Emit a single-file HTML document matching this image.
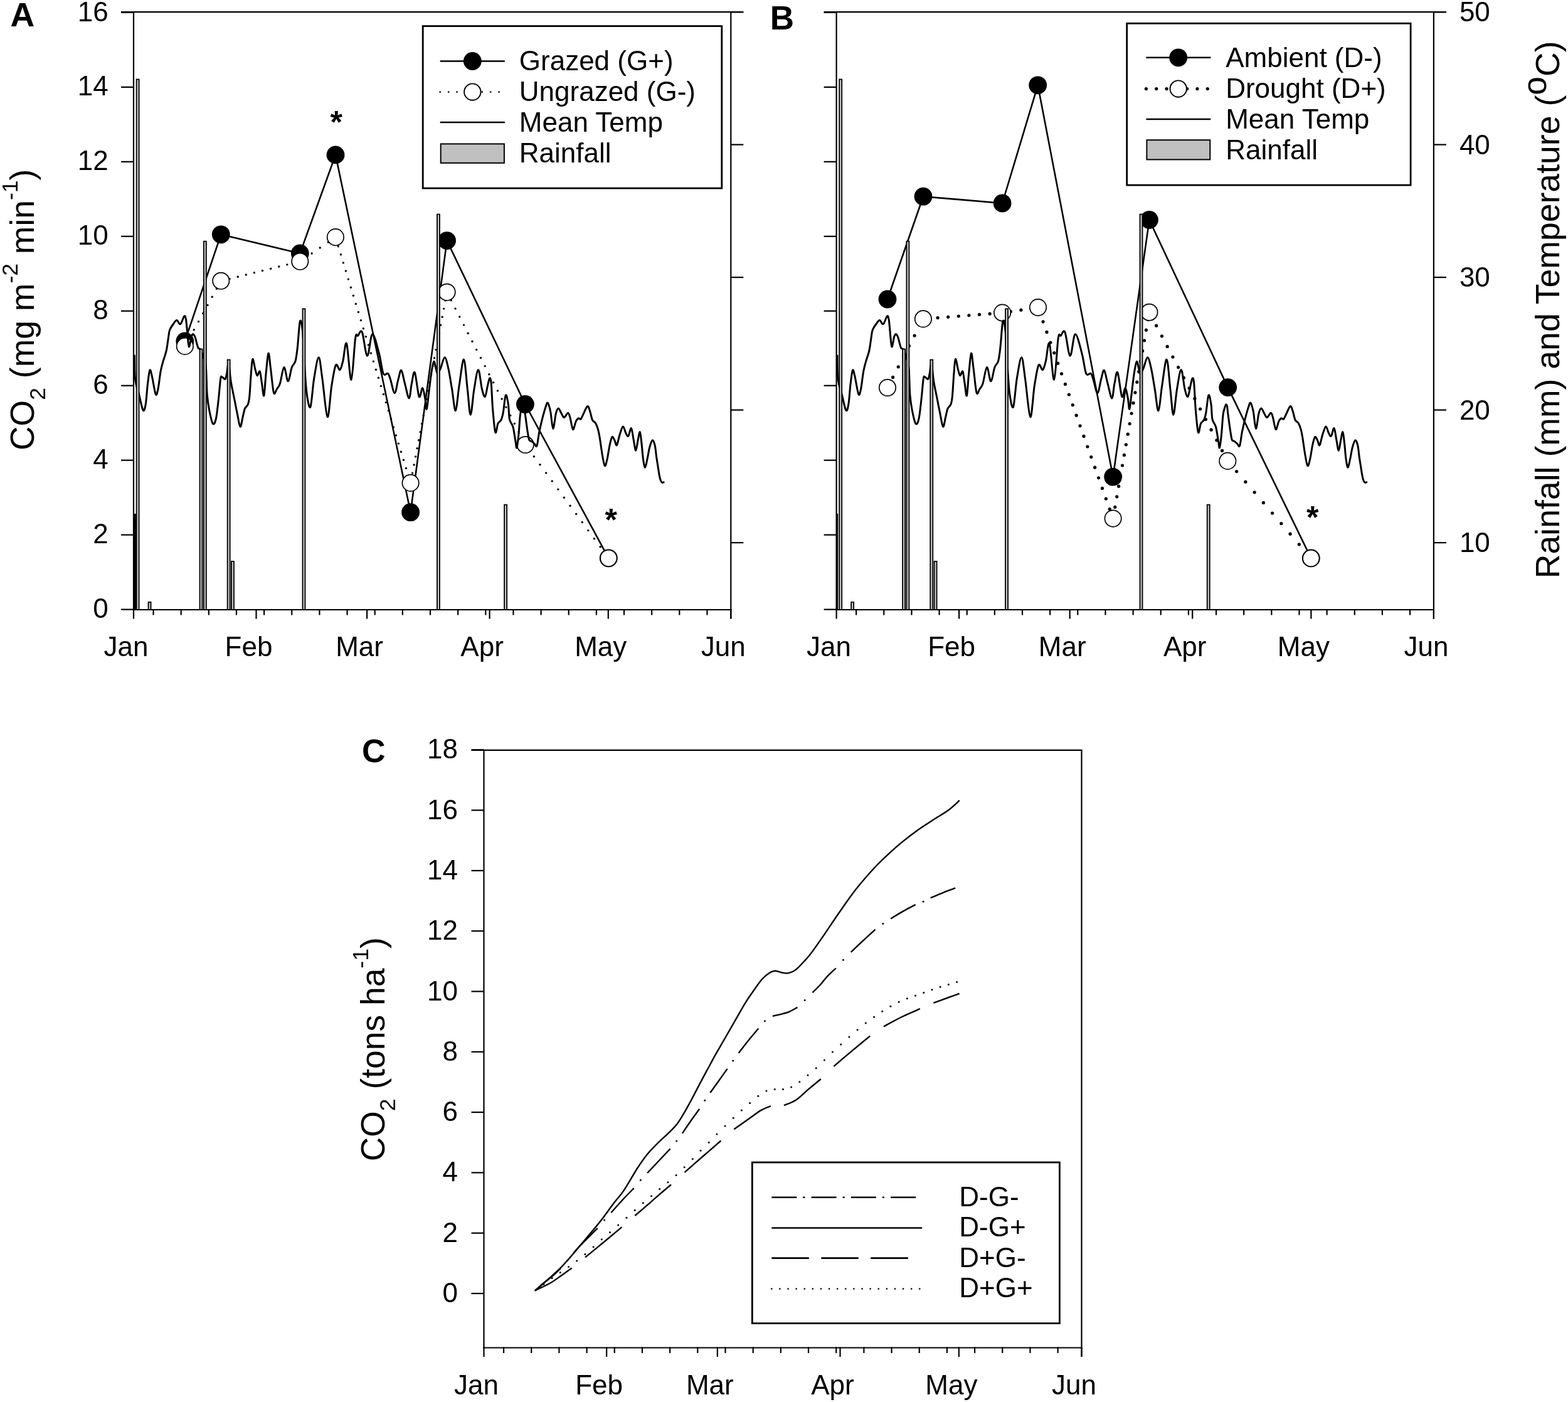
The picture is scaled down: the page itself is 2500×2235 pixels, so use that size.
<!DOCTYPE html>
<html><head><meta charset="utf-8"><title>Figure</title>
<style>html,body{margin:0;padding:0;background:#fff;}svg{display:block;}</style>
</head><body>
<svg width="2500" height="2235" viewBox="0 0 2500 2235" font-family="'Liberation Sans', Arial, sans-serif" fill="#000" stroke="#000">
<rect x="0" y="0" width="2500" height="2235" fill="#fff" stroke="none"/>
<g stroke="#000" fill="none">
<path d="M294.8,544 L352.3,373.8 L478.3,403.9 L535,246.9 L654.6,816.7 L712.6,383.6 L837.4,644.5 L970.3,889.8" fill="none" stroke-width="2.6" stroke-linejoin="round"/>
<circle cx="294.8" cy="544" r="14.4" fill="#000" stroke="none"/>
<circle cx="352.3" cy="373.8" r="14.4" fill="#000" stroke="none"/>
<circle cx="478.3" cy="403.9" r="14.4" fill="#000" stroke="none"/>
<circle cx="535" cy="246.9" r="14.4" fill="#000" stroke="none"/>
<circle cx="654.6" cy="816.7" r="14.4" fill="#000" stroke="none"/>
<circle cx="712.6" cy="383.6" r="14.4" fill="#000" stroke="none"/>
<circle cx="837.4" cy="644.5" r="14.4" fill="#000" stroke="none"/>
<circle cx="970.3" cy="889.8" r="14.4" fill="#000" stroke="none"/>
<g fill="#000" stroke="none"><circle cx="294.8" cy="551.9" r="1.7"/><circle cx="302.04" cy="538.8" r="1.7"/><circle cx="309.27" cy="525.7" r="1.7"/><circle cx="316.51" cy="512.6" r="1.7"/><circle cx="323.74" cy="499.5" r="1.7"/><circle cx="330.98" cy="486.4" r="1.7"/><circle cx="338.21" cy="473.3" r="1.7"/><circle cx="345.45" cy="460.2" r="1.7"/><circle cx="353" cy="447.63" r="1.7"/><circle cx="366.1" cy="444.4" r="1.7"/><circle cx="379.2" cy="441.18" r="1.7"/><circle cx="392.3" cy="437.96" r="1.7"/><circle cx="405.4" cy="434.74" r="1.7"/><circle cx="418.5" cy="431.51" r="1.7"/><circle cx="431.6" cy="428.29" r="1.7"/><circle cx="444.7" cy="425.07" r="1.7"/><circle cx="457.8" cy="421.84" r="1.7"/><circle cx="470.9" cy="418.62" r="1.7"/><circle cx="484" cy="412.9" r="1.7"/><circle cx="497.1" cy="403.95" r="1.7"/><circle cx="510.2" cy="394.99" r="1.7"/><circle cx="523.3" cy="386.03" r="1.7"/><circle cx="535.36" cy="379.6" r="1.7"/><circle cx="539.36" cy="392.7" r="1.7"/><circle cx="543.36" cy="405.8" r="1.7"/><circle cx="547.36" cy="418.9" r="1.7"/><circle cx="551.37" cy="432" r="1.7"/><circle cx="555.37" cy="445.1" r="1.7"/><circle cx="559.37" cy="458.2" r="1.7"/><circle cx="563.37" cy="471.3" r="1.7"/><circle cx="567.38" cy="484.4" r="1.7"/><circle cx="571.38" cy="497.5" r="1.7"/><circle cx="575.38" cy="510.6" r="1.7"/><circle cx="579.38" cy="523.7" r="1.7"/><circle cx="583.38" cy="536.8" r="1.7"/><circle cx="587.39" cy="549.9" r="1.7"/><circle cx="591.39" cy="563" r="1.7"/><circle cx="595.39" cy="576.1" r="1.7"/><circle cx="599.39" cy="589.2" r="1.7"/><circle cx="603.4" cy="602.3" r="1.7"/><circle cx="607.4" cy="615.4" r="1.7"/><circle cx="611.4" cy="628.5" r="1.7"/><circle cx="615.4" cy="641.6" r="1.7"/><circle cx="619.4" cy="654.7" r="1.7"/><circle cx="623.41" cy="667.8" r="1.7"/><circle cx="627.41" cy="680.9" r="1.7"/><circle cx="631.41" cy="694" r="1.7"/><circle cx="635.41" cy="707.1" r="1.7"/><circle cx="639.42" cy="720.2" r="1.7"/><circle cx="643.42" cy="733.3" r="1.7"/><circle cx="647.42" cy="746.4" r="1.7"/><circle cx="651.42" cy="759.5" r="1.7"/><circle cx="655.11" cy="767.2" r="1.7"/><circle cx="657.61" cy="754.1" r="1.7"/><circle cx="660.11" cy="741" r="1.7"/><circle cx="662.61" cy="727.9" r="1.7"/><circle cx="665.11" cy="714.8" r="1.7"/><circle cx="667.61" cy="701.7" r="1.7"/><circle cx="670.11" cy="688.6" r="1.7"/><circle cx="672.6" cy="675.5" r="1.7"/><circle cx="675.1" cy="662.4" r="1.7"/><circle cx="677.6" cy="649.3" r="1.7"/><circle cx="680.1" cy="636.2" r="1.7"/><circle cx="682.6" cy="623.1" r="1.7"/><circle cx="685.1" cy="610" r="1.7"/><circle cx="687.6" cy="596.9" r="1.7"/><circle cx="690.09" cy="583.8" r="1.7"/><circle cx="692.59" cy="570.7" r="1.7"/><circle cx="695.09" cy="557.6" r="1.7"/><circle cx="697.59" cy="544.5" r="1.7"/><circle cx="700.09" cy="531.4" r="1.7"/><circle cx="702.59" cy="518.3" r="1.7"/><circle cx="705.09" cy="505.2" r="1.7"/><circle cx="707.58" cy="492.1" r="1.7"/><circle cx="710.08" cy="479" r="1.7"/><circle cx="712.58" cy="465.9" r="1.7"/><circle cx="719.29" cy="478.8" r="1.7"/><circle cx="726.03" cy="491.9" r="1.7"/><circle cx="732.76" cy="505" r="1.7"/><circle cx="739.5" cy="518.1" r="1.7"/><circle cx="746.24" cy="531.2" r="1.7"/><circle cx="752.98" cy="544.3" r="1.7"/><circle cx="759.72" cy="557.4" r="1.7"/><circle cx="766.46" cy="570.5" r="1.7"/><circle cx="773.2" cy="583.6" r="1.7"/><circle cx="779.93" cy="596.7" r="1.7"/><circle cx="786.67" cy="609.8" r="1.7"/><circle cx="793.41" cy="622.9" r="1.7"/><circle cx="800.15" cy="636" r="1.7"/><circle cx="806.89" cy="649.1" r="1.7"/><circle cx="813.63" cy="662.2" r="1.7"/><circle cx="820.37" cy="675.3" r="1.7"/><circle cx="827.1" cy="688.4" r="1.7"/><circle cx="833.84" cy="701.5" r="1.7"/><circle cx="841.81" cy="714.6" r="1.7"/><circle cx="851.41" cy="727.7" r="1.7"/><circle cx="861.02" cy="740.8" r="1.7"/><circle cx="870.63" cy="753.9" r="1.7"/><circle cx="880.24" cy="767" r="1.7"/><circle cx="889.85" cy="780.1" r="1.7"/><circle cx="899.45" cy="793.2" r="1.7"/><circle cx="909.06" cy="806.3" r="1.7"/><circle cx="918.67" cy="819.4" r="1.7"/><circle cx="928.28" cy="832.5" r="1.7"/><circle cx="937.88" cy="845.6" r="1.7"/><circle cx="947.49" cy="858.7" r="1.7"/><circle cx="957.1" cy="871.8" r="1.7"/><circle cx="966.71" cy="884.9" r="1.7"/></g>
<circle cx="294.8" cy="551.9" r="13.2" fill="#fff" stroke-width="1.7"/>
<circle cx="352.3" cy="447.8" r="13.2" fill="#fff" stroke-width="1.7"/>
<circle cx="478.3" cy="416.8" r="13.2" fill="#fff" stroke-width="1.7"/>
<circle cx="534.9" cy="378.1" r="13.2" fill="#fff" stroke-width="1.7"/>
<circle cx="654.6" cy="769.9" r="13.2" fill="#fff" stroke-width="1.7"/>
<circle cx="712.6" cy="465.8" r="13.2" fill="#fff" stroke-width="1.7"/>
<circle cx="837.7" cy="709" r="13.2" fill="#fff" stroke-width="1.7"/>
<circle cx="970.3" cy="889.8" r="13.2" fill="#fff" stroke-width="1.7"/>
<path d="M214.3,565.7 C214.42,571.25 214.42,590.62 215,599 C215.58,607.38 216.72,611.12 217.8,616 C218.88,620.88 219.78,621.98 221.5,628.3 C223.22,634.62 226.32,651.15 228.1,653.9 C229.88,656.65 230.97,651.82 232.2,644.8 C233.43,637.78 234.4,620.87 235.5,611.8 C236.6,602.73 237.7,592.58 238.8,590.4 C239.9,588.22 240.53,592.38 242.1,598.7 C243.67,605.02 246.55,624.73 248.2,628.3 C249.85,631.87 250.68,626.13 252,620.1 C253.32,614.07 254.73,599.52 256.1,592.1 C257.47,584.68 258.68,581.1 260.2,575.6 C261.72,570.1 263.82,565.37 265.2,559.1 C266.58,552.83 267.62,543.45 268.5,538 C269.38,532.55 269.25,529.9 270.5,526.4 C271.75,522.9 274.1,519.63 276,517 C277.9,514.37 279.97,510.65 281.9,510.6 C283.83,510.55 285.63,517.8 287.6,516.7 C289.57,515.6 292.23,505.32 293.7,504 C295.17,502.68 295.67,505.43 296.4,508.8 C297.13,512.17 297.58,519 298.1,524.2 C298.62,529.4 298.97,535.23 299.5,540 C300.03,544.77 300.63,551.97 301.3,552.8 C301.97,553.63 302.88,547.63 303.5,545 C304.12,542.37 304.28,539.08 305,537 C305.72,534.92 306.97,532.83 307.8,532.5 C308.63,532.17 309.33,533.82 310,535 C310.67,536.18 311.13,537.37 311.8,539.6 C312.47,541.83 313.27,545.83 314,548.4 C314.73,550.97 315.2,553.4 316.2,555 C317.2,556.6 318.37,554.67 320,558 C321.63,561.33 324.57,569.87 326,575 C327.43,580.13 327.9,579.92 328.6,588.8 C329.3,597.68 329.38,617.6 330.2,628.3 C331.02,639 331.98,645.17 333.5,653 C335.02,660.83 337.5,672.82 339.3,675.3 C341.1,677.78 342.78,674.35 344.3,667.9 C345.82,661.45 347.17,647.32 348.4,636.6 C349.63,625.88 350.75,609.52 351.7,603.6 C352.65,597.68 352.87,600.97 354.1,601.1 C355.33,601.23 357.85,605.35 359.1,604.4 C360.35,603.45 360.7,599.47 361.6,595.4 C362.5,591.33 363.4,577.82 364.5,580 C365.6,582.18 366.77,599.62 368.2,608.5 C369.63,617.38 371.47,625.05 373.1,633.3 C374.73,641.55 376.35,650.18 378,658 C379.65,665.82 381.48,679.1 383,680.2 C384.52,681.3 385.87,669.4 387.1,664.6 C388.33,659.8 389.03,654.7 390.4,651.4 C391.77,648.1 394.07,648.1 395.3,644.8 C396.53,641.5 396.97,639.83 397.8,631.6 C398.63,623.37 399.47,605.28 400.3,595.4 C401.13,585.52 401.7,573.4 402.8,572.3 C403.9,571.2 405.67,584.4 406.9,588.8 C408.13,593.2 408.97,598.15 410.2,598.7 C411.43,599.25 413.07,589.92 414.3,592.1 C415.53,594.28 416.52,605.35 417.6,611.8 C418.68,618.25 419.72,633.53 420.8,630.8 C421.88,628.07 422.92,606.67 424.1,595.4 C425.28,584.13 426.67,564.58 427.9,563.2 C429.13,561.82 430.08,576.67 431.5,587.1 C432.92,597.53 434.75,620.3 436.4,625.8 C438.05,631.3 439.75,622.43 441.4,620.1 C443.05,617.77 444.38,617.57 446.3,611.8 C448.22,606.03 450.75,586.18 452.9,585.5 C455.05,584.82 457.13,607.7 459.2,607.7 C461.27,607.7 463.33,590.85 465.3,585.5 C467.27,580.15 469.5,580.82 471,575.6 C472.5,570.38 473.07,564.78 474.3,554.2 C475.53,543.62 477.02,516.23 478.4,512.1 C479.78,507.97 481.35,516.9 482.6,529.4 C483.85,541.9 484.8,570.62 485.9,587.1 C487,603.58 487.7,618 489.2,628.3 C490.7,638.6 492.98,653.02 494.9,648.9 C496.82,644.78 498.5,616.78 500.7,603.6 C502.9,590.42 505.9,569.8 508.1,569.8 C510.3,569.8 511.57,587.8 513.9,603.6 C516.23,619.4 519.63,662.68 522.1,664.6 C524.57,666.52 526.5,628.83 528.7,615.1 C530.9,601.37 533.1,586.45 535.3,582.2 C537.5,577.95 539.98,590.7 541.9,589.6 C543.82,588.5 545.02,582.6 546.8,575.6 C548.58,568.6 550.4,542.67 552.6,547.6 C554.8,552.53 557.67,606.58 560,605.2 C562.33,603.82 564.82,550.97 566.6,539.3 C568.38,527.63 568.92,536.85 570.7,535.2 C572.48,533.55 574.82,524.05 577.3,529.4 C579.78,534.75 582.85,566.75 585.6,567.3 C588.35,567.85 590.65,533.25 593.8,532.7 C596.95,532.15 601.62,553.55 604.5,564 C607.38,574.45 608.77,590.17 611.1,595.4 C613.43,600.63 616.58,593.77 618.5,595.4 C620.42,597.03 620.82,599.98 622.6,605.2 C624.38,610.42 627.15,626.7 629.2,626.7 C631.25,626.7 633.13,611.25 634.9,605.2 C636.67,599.15 638.02,589.3 639.8,590.4 C641.58,591.5 643.53,604.38 645.6,611.8 C647.67,619.22 650.42,634.9 652.2,634.9 C653.98,634.9 654.78,618.67 656.3,611.8 C657.82,604.93 659.32,590.27 661.3,593.7 C663.28,597.13 666.15,628.28 668.2,632.4 C670.25,636.52 672.02,617.98 673.6,618.4 C675.18,618.82 676.6,629.27 677.7,634.9 C678.8,640.53 679.23,653.3 680.2,652.2 C681.17,651.1 682.27,637.77 683.5,628.3 C684.73,618.83 686.23,604.05 687.6,595.4 C688.97,586.75 690.47,577.78 691.7,576.4 C692.93,575.02 694.03,583.93 695,587.1 C695.97,590.27 696.25,595.4 697.5,595.4 C698.75,595.4 700.58,591.37 702.5,587.1 C704.42,582.83 706.95,569.8 709,569.8 C711.05,569.8 712.87,578.72 714.8,587.1 C716.73,595.48 718.67,608.83 720.6,620.1 C722.53,631.37 724.48,655.53 726.4,654.7 C728.32,653.87 729.92,628.7 732.1,615.1 C734.28,601.5 737.3,572.27 739.5,573.1 C741.7,573.93 743.52,605.4 745.3,620.1 C747.08,634.8 748.42,661.3 750.2,661.3 C751.98,661.3 753.93,632.05 756,620.1 C758.07,608.15 760.53,589.6 762.6,589.6 C764.67,589.6 766.62,612.97 768.4,620.1 C770.18,627.23 771.8,633.23 773.3,632.4 C774.8,631.57 776.17,620.03 777.4,615.1 C778.63,610.17 779.73,603.35 780.7,602.8 C781.67,602.25 782.37,603.43 783.2,611.8 C784.03,620.17 784.6,640.08 785.7,653 C786.8,665.92 788.43,685.58 789.8,689.3 C791.17,693.02 792.38,678.6 793.9,675.3 C795.42,672 797.52,672.38 798.9,669.5 C800.28,666.62 800.97,664.58 802.2,658 C803.43,651.42 804.93,632.2 806.3,630 C807.67,627.8 809.38,638.4 810.4,644.8 C811.42,651.2 811.15,662.45 812.4,668.4 C813.65,674.35 816.28,674.47 817.9,680.5 C819.52,686.53 821.1,699.07 822.1,704.6 C823.1,710.13 823.1,715.7 823.9,713.7 C824.7,711.7 826,701.17 826.9,692.6 C827.8,684.03 828.53,669.07 829.3,662.3 C830.07,655.53 830.72,654.88 831.5,652 C832.28,649.12 833.25,645.67 834,645 C834.75,644.33 835.47,645.62 836,648 C836.53,650.38 836.3,652.38 837.2,659.3 C838.1,666.22 840.28,682.45 841.4,689.5 C842.52,696.55 842.88,699.28 843.9,701.6 C844.92,703.92 846.1,702.38 847.5,703.4 C848.9,704.42 850.88,706.48 852.3,707.7 C853.72,708.92 854.78,713.73 856,710.7 C857.22,707.67 858.2,696.55 859.6,689.5 C861,682.45 862.58,675.45 864.4,668.4 C866.22,661.35 868.98,651.53 870.5,647.2 C872.02,642.87 872.3,640.88 873.5,642.4 C874.7,643.92 876.32,649.48 877.7,656.3 C879.08,663.12 880.35,682.87 881.8,683.3 C883.25,683.73 884.97,664.28 886.4,658.9 C887.83,653.52 888.85,650.78 890.4,651 C891.95,651.22 894.17,657.78 895.7,660.2 C897.23,662.62 897.95,665.82 899.6,665.5 C901.25,665.18 904.05,658.3 905.6,658.3 C907.15,658.3 907.58,661.12 908.9,665.5 C910.22,669.88 911.97,683.5 913.5,684.6 C915.03,685.7 916.68,675.07 918.1,672.1 C919.52,669.13 920.68,667.47 922,666.8 C923.32,666.13 924.67,669.2 926,668.1 C927.33,667 928.23,663.6 930,660.2 C931.77,656.8 934.85,648.57 936.6,647.7 C938.35,646.83 939.18,651.37 940.5,655 C941.82,658.63 942.97,666.22 944.5,669.5 C946.03,672.78 948.17,672.07 949.7,674.7 C951.23,677.33 952.6,681.33 953.7,685.3 C954.8,689.27 955.2,691.9 956.3,698.5 C957.4,705.1 958.97,717.53 960.3,724.9 C961.63,732.27 962.98,741.6 964.3,742.7 C965.62,743.8 966.88,737.12 968.2,731.5 C969.52,725.88 970.88,714.83 972.2,709 C973.52,703.17 974.78,697.6 976.1,696.5 C977.42,695.4 978.88,700.2 980.1,702.4 C981.32,704.6 982.08,711.23 983.4,709.7 C984.72,708.17 986.35,698.15 988,693.2 C989.65,688.25 991.65,680.43 993.3,680 C994.95,679.57 996.48,688.07 997.9,690.6 C999.32,693.13 1000.37,696.52 1001.8,695.2 C1003.23,693.88 1005.07,681.5 1006.5,682.7 C1007.93,683.9 1009.2,696.47 1010.4,702.4 C1011.6,708.33 1012.6,718.3 1013.7,718.3 C1014.8,718.3 1015.9,707.35 1017,702.4 C1018.1,697.45 1019.3,687.8 1020.3,688.6 C1021.3,689.4 1022.15,700.07 1023,707.2 C1023.85,714.33 1024.48,725.05 1025.4,731.4 C1026.32,737.75 1027.38,745.3 1028.5,745.3 C1029.62,745.3 1030.9,736.75 1032.1,731.4 C1033.3,726.05 1034.35,718.13 1035.7,713.2 C1037.05,708.27 1038.78,702.3 1040.2,701.8 C1041.62,701.3 1043.13,705.78 1044.2,710.2 C1045.27,714.62 1045.8,722.77 1046.6,728.3 C1047.4,733.83 1048.2,738.37 1049,743.4 C1049.8,748.43 1050.6,754.57 1051.4,758.5 C1052.2,762.43 1052.98,765.18 1053.8,767 C1054.62,768.82 1055.38,769.2 1056.3,769.4 C1057.22,769.6 1058.8,768.4 1059.3,768.2" fill="none" stroke-width="3.0" stroke-linejoin="round"/>
<rect x="212.5" y="818.9" width="4.9" height="153.1" fill="#000" stroke="none"/>
<rect x="217.61" y="126.5" width="4" height="845.5" fill="#c8c8c8" stroke-width="1.8"/>
<rect x="236.53" y="959.9" width="4" height="12.1" fill="#c8c8c8" stroke-width="1.8"/>
<rect x="318.51" y="556.5" width="4" height="415.5" fill="#c8c8c8" stroke-width="1.8"/>
<rect x="324.82" y="384.7" width="4" height="587.3" fill="#c8c8c8" stroke-width="1.8"/>
<rect x="362.66" y="573.5" width="4" height="398.5" fill="#c8c8c8" stroke-width="1.8"/>
<rect x="368.97" y="894.9" width="4" height="77.1" fill="#c8c8c8" stroke-width="1.8"/>
<rect x="482.48" y="492.3" width="4" height="479.7" fill="#c8c8c8" stroke-width="1.8"/>
<rect x="696.91" y="341.6" width="4" height="630.4" fill="#c8c8c8" stroke-width="1.8"/>
<rect x="804.12" y="804.6" width="4" height="167.4" fill="#c8c8c8" stroke-width="1.8"/>
<path d="M1415,477 L1472,313.2 L1598.1,324 L1654.7,135.8 L1774.6,760.2 L1832.4,350.5 L1957.7,617.6 L2090.3,889.9" fill="none" stroke-width="2.6" stroke-linejoin="round"/>
<circle cx="1415" cy="477" r="14.4" fill="#000" stroke="none"/>
<circle cx="1472" cy="313.2" r="14.4" fill="#000" stroke="none"/>
<circle cx="1598.1" cy="324" r="14.4" fill="#000" stroke="none"/>
<circle cx="1654.7" cy="135.8" r="14.4" fill="#000" stroke="none"/>
<circle cx="1774.6" cy="760.2" r="14.4" fill="#000" stroke="none"/>
<circle cx="1832.4" cy="350.5" r="14.4" fill="#000" stroke="none"/>
<circle cx="1957.7" cy="617.6" r="14.4" fill="#000" stroke="none"/>
<circle cx="2090.3" cy="889.9" r="14.4" fill="#000" stroke="none"/>
<g fill="#000" stroke="none"><circle cx="1415" cy="618" r="2.6"/><circle cx="1423.62" cy="601.4" r="2.6"/><circle cx="1432.24" cy="584.8" r="2.6"/><circle cx="1440.85" cy="568.2" r="2.6"/><circle cx="1449.47" cy="551.6" r="2.6"/><circle cx="1458.09" cy="535" r="2.6"/><circle cx="1466.71" cy="518.4" r="2.6"/><circle cx="1478.5" cy="507.89" r="2.6"/><circle cx="1495.1" cy="506.6" r="2.6"/><circle cx="1511.7" cy="505.31" r="2.6"/><circle cx="1528.3" cy="504.02" r="2.6"/><circle cx="1544.9" cy="502.73" r="2.6"/><circle cx="1561.5" cy="501.44" r="2.6"/><circle cx="1578.1" cy="500.15" r="2.6"/><circle cx="1594.7" cy="498.86" r="2.6"/><circle cx="1611.3" cy="496.63" r="2.6"/><circle cx="1627.9" cy="494.15" r="2.6"/><circle cx="1644.5" cy="491.67" r="2.6"/><circle cx="1657.17" cy="496.2" r="2.6"/><circle cx="1663.07" cy="512.8" r="2.6"/><circle cx="1668.97" cy="529.4" r="2.6"/><circle cx="1674.87" cy="546" r="2.6"/><circle cx="1680.77" cy="562.6" r="2.6"/><circle cx="1686.67" cy="579.2" r="2.6"/><circle cx="1692.57" cy="595.8" r="2.6"/><circle cx="1698.47" cy="612.4" r="2.6"/><circle cx="1704.37" cy="629" r="2.6"/><circle cx="1710.27" cy="645.6" r="2.6"/><circle cx="1716.17" cy="662.2" r="2.6"/><circle cx="1722.07" cy="678.8" r="2.6"/><circle cx="1727.97" cy="695.4" r="2.6"/><circle cx="1733.87" cy="712" r="2.6"/><circle cx="1739.77" cy="728.6" r="2.6"/><circle cx="1745.67" cy="745.2" r="2.6"/><circle cx="1751.57" cy="761.8" r="2.6"/><circle cx="1757.47" cy="778.4" r="2.6"/><circle cx="1763.37" cy="795" r="2.6"/><circle cx="1769.27" cy="811.6" r="2.6"/><circle cx="1774.88" cy="825" r="2.6"/><circle cx="1777.8" cy="808.4" r="2.6"/><circle cx="1780.72" cy="791.8" r="2.6"/><circle cx="1783.64" cy="775.2" r="2.6"/><circle cx="1786.55" cy="758.6" r="2.6"/><circle cx="1789.47" cy="742" r="2.6"/><circle cx="1792.39" cy="725.4" r="2.6"/><circle cx="1795.31" cy="708.8" r="2.6"/><circle cx="1798.23" cy="692.2" r="2.6"/><circle cx="1801.14" cy="675.6" r="2.6"/><circle cx="1804.06" cy="659" r="2.6"/><circle cx="1806.98" cy="642.4" r="2.6"/><circle cx="1809.9" cy="625.8" r="2.6"/><circle cx="1812.82" cy="609.2" r="2.6"/><circle cx="1815.74" cy="592.6" r="2.6"/><circle cx="1818.65" cy="576" r="2.6"/><circle cx="1821.57" cy="559.4" r="2.6"/><circle cx="1824.49" cy="542.8" r="2.6"/><circle cx="1827.41" cy="526.2" r="2.6"/><circle cx="1830.33" cy="509.6" r="2.6"/><circle cx="1834.93" cy="502.6" r="2.6"/><circle cx="1843.67" cy="519.2" r="2.6"/><circle cx="1852.42" cy="535.8" r="2.6"/><circle cx="1861.16" cy="552.4" r="2.6"/><circle cx="1869.91" cy="569" r="2.6"/><circle cx="1878.65" cy="585.6" r="2.6"/><circle cx="1887.4" cy="602.2" r="2.6"/><circle cx="1896.14" cy="618.8" r="2.6"/><circle cx="1904.89" cy="635.4" r="2.6"/><circle cx="1913.63" cy="652" r="2.6"/><circle cx="1922.37" cy="668.6" r="2.6"/><circle cx="1931.12" cy="685.2" r="2.6"/><circle cx="1939.86" cy="701.8" r="2.6"/><circle cx="1948.61" cy="718.4" r="2.6"/><circle cx="1957.39" cy="735" r="2.6"/><circle cx="1971.63" cy="751.6" r="2.6"/><circle cx="1985.87" cy="768.2" r="2.6"/><circle cx="2000.12" cy="784.8" r="2.6"/><circle cx="2014.36" cy="801.4" r="2.6"/><circle cx="2028.61" cy="818" r="2.6"/><circle cx="2042.85" cy="834.6" r="2.6"/><circle cx="2057.09" cy="851.2" r="2.6"/><circle cx="2071.34" cy="867.8" r="2.6"/><circle cx="2085.58" cy="884.4" r="2.6"/></g>
<circle cx="1415" cy="618" r="13.2" fill="#fff" stroke-width="1.7"/>
<circle cx="1471.9" cy="508.4" r="13.2" fill="#fff" stroke-width="1.7"/>
<circle cx="1598.1" cy="498.6" r="13.2" fill="#fff" stroke-width="1.7"/>
<circle cx="1655" cy="490.1" r="13.2" fill="#fff" stroke-width="1.7"/>
<circle cx="1774.6" cy="826.6" r="13.2" fill="#fff" stroke-width="1.7"/>
<circle cx="1832.4" cy="497.8" r="13.2" fill="#fff" stroke-width="1.7"/>
<circle cx="1957.3" cy="734.9" r="13.2" fill="#fff" stroke-width="1.7"/>
<circle cx="2090.3" cy="889.9" r="13.2" fill="#fff" stroke-width="1.7"/>
<path d="M1334.9,565.7 C1335.02,571.25 1335.02,590.62 1335.6,599 C1336.18,607.38 1337.32,611.12 1338.4,616 C1339.48,620.88 1340.38,621.98 1342.1,628.3 C1343.82,634.62 1346.92,651.15 1348.7,653.9 C1350.48,656.65 1351.57,651.82 1352.8,644.8 C1354.03,637.78 1355,620.87 1356.1,611.8 C1357.2,602.73 1358.3,592.58 1359.4,590.4 C1360.5,588.22 1361.13,592.38 1362.7,598.7 C1364.27,605.02 1367.15,624.73 1368.8,628.3 C1370.45,631.87 1371.28,626.13 1372.6,620.1 C1373.92,614.07 1375.33,599.52 1376.7,592.1 C1378.07,584.68 1379.28,581.1 1380.8,575.6 C1382.32,570.1 1384.42,565.37 1385.8,559.1 C1387.18,552.83 1388.22,543.45 1389.1,538 C1389.98,532.55 1389.85,529.9 1391.1,526.4 C1392.35,522.9 1394.7,519.63 1396.6,517 C1398.5,514.37 1400.57,510.65 1402.5,510.6 C1404.43,510.55 1406.23,517.8 1408.2,516.7 C1410.17,515.6 1412.83,505.32 1414.3,504 C1415.77,502.68 1416.27,505.43 1417,508.8 C1417.73,512.17 1418.18,519 1418.7,524.2 C1419.22,529.4 1419.57,535.23 1420.1,540 C1420.63,544.77 1421.23,551.97 1421.9,552.8 C1422.57,553.63 1423.48,547.63 1424.1,545 C1424.72,542.37 1424.88,539.08 1425.6,537 C1426.32,534.92 1427.57,532.83 1428.4,532.5 C1429.23,532.17 1429.93,533.82 1430.6,535 C1431.27,536.18 1431.73,537.37 1432.4,539.6 C1433.07,541.83 1433.87,545.83 1434.6,548.4 C1435.33,550.97 1435.8,553.4 1436.8,555 C1437.8,556.6 1438.97,554.67 1440.6,558 C1442.23,561.33 1445.17,569.87 1446.6,575 C1448.03,580.13 1448.5,579.92 1449.2,588.8 C1449.9,597.68 1449.98,617.6 1450.8,628.3 C1451.62,639 1452.58,645.17 1454.1,653 C1455.62,660.83 1458.1,672.82 1459.9,675.3 C1461.7,677.78 1463.38,674.35 1464.9,667.9 C1466.42,661.45 1467.77,647.32 1469,636.6 C1470.23,625.88 1471.35,609.52 1472.3,603.6 C1473.25,597.68 1473.47,600.97 1474.7,601.1 C1475.93,601.23 1478.45,605.35 1479.7,604.4 C1480.95,603.45 1481.3,599.47 1482.2,595.4 C1483.1,591.33 1484,577.82 1485.1,580 C1486.2,582.18 1487.37,599.62 1488.8,608.5 C1490.23,617.38 1492.07,625.05 1493.7,633.3 C1495.33,641.55 1496.95,650.18 1498.6,658 C1500.25,665.82 1502.08,679.1 1503.6,680.2 C1505.12,681.3 1506.47,669.4 1507.7,664.6 C1508.93,659.8 1509.63,654.7 1511,651.4 C1512.37,648.1 1514.67,648.1 1515.9,644.8 C1517.13,641.5 1517.57,639.83 1518.4,631.6 C1519.23,623.37 1520.07,605.28 1520.9,595.4 C1521.73,585.52 1522.3,573.4 1523.4,572.3 C1524.5,571.2 1526.27,584.4 1527.5,588.8 C1528.73,593.2 1529.57,598.15 1530.8,598.7 C1532.03,599.25 1533.67,589.92 1534.9,592.1 C1536.13,594.28 1537.12,605.35 1538.2,611.8 C1539.28,618.25 1540.32,633.53 1541.4,630.8 C1542.48,628.07 1543.52,606.67 1544.7,595.4 C1545.88,584.13 1547.27,564.58 1548.5,563.2 C1549.73,561.82 1550.68,576.67 1552.1,587.1 C1553.52,597.53 1555.35,620.3 1557,625.8 C1558.65,631.3 1560.35,622.43 1562,620.1 C1563.65,617.77 1564.98,617.57 1566.9,611.8 C1568.82,606.03 1571.35,586.18 1573.5,585.5 C1575.65,584.82 1577.73,607.7 1579.8,607.7 C1581.87,607.7 1583.93,590.85 1585.9,585.5 C1587.87,580.15 1590.1,580.82 1591.6,575.6 C1593.1,570.38 1593.67,564.78 1594.9,554.2 C1596.13,543.62 1597.62,516.23 1599,512.1 C1600.38,507.97 1601.95,516.9 1603.2,529.4 C1604.45,541.9 1605.4,570.62 1606.5,587.1 C1607.6,603.58 1608.3,618 1609.8,628.3 C1611.3,638.6 1613.58,653.02 1615.5,648.9 C1617.42,644.78 1619.1,616.78 1621.3,603.6 C1623.5,590.42 1626.5,569.8 1628.7,569.8 C1630.9,569.8 1632.17,587.8 1634.5,603.6 C1636.83,619.4 1640.23,662.68 1642.7,664.6 C1645.17,666.52 1647.1,628.83 1649.3,615.1 C1651.5,601.37 1653.7,586.45 1655.9,582.2 C1658.1,577.95 1660.58,590.7 1662.5,589.6 C1664.42,588.5 1665.62,582.6 1667.4,575.6 C1669.18,568.6 1671,542.67 1673.2,547.6 C1675.4,552.53 1678.27,606.58 1680.6,605.2 C1682.93,603.82 1685.42,550.97 1687.2,539.3 C1688.98,527.63 1689.52,536.85 1691.3,535.2 C1693.08,533.55 1695.42,524.05 1697.9,529.4 C1700.38,534.75 1703.45,566.75 1706.2,567.3 C1708.95,567.85 1711.25,533.25 1714.4,532.7 C1717.55,532.15 1722.22,553.55 1725.1,564 C1727.98,574.45 1729.37,590.17 1731.7,595.4 C1734.03,600.63 1737.18,593.77 1739.1,595.4 C1741.02,597.03 1741.42,599.98 1743.2,605.2 C1744.98,610.42 1747.75,626.7 1749.8,626.7 C1751.85,626.7 1753.73,611.25 1755.5,605.2 C1757.27,599.15 1758.62,589.3 1760.4,590.4 C1762.18,591.5 1764.13,604.38 1766.2,611.8 C1768.27,619.22 1771.02,634.9 1772.8,634.9 C1774.58,634.9 1775.38,618.67 1776.9,611.8 C1778.42,604.93 1779.92,590.27 1781.9,593.7 C1783.88,597.13 1786.75,628.28 1788.8,632.4 C1790.85,636.52 1792.62,617.98 1794.2,618.4 C1795.78,618.82 1797.2,629.27 1798.3,634.9 C1799.4,640.53 1799.83,653.3 1800.8,652.2 C1801.77,651.1 1802.87,637.77 1804.1,628.3 C1805.33,618.83 1806.83,604.05 1808.2,595.4 C1809.57,586.75 1811.07,577.78 1812.3,576.4 C1813.53,575.02 1814.63,583.93 1815.6,587.1 C1816.57,590.27 1816.85,595.4 1818.1,595.4 C1819.35,595.4 1821.18,591.37 1823.1,587.1 C1825.02,582.83 1827.55,569.8 1829.6,569.8 C1831.65,569.8 1833.47,578.72 1835.4,587.1 C1837.33,595.48 1839.27,608.83 1841.2,620.1 C1843.13,631.37 1845.08,655.53 1847,654.7 C1848.92,653.87 1850.52,628.7 1852.7,615.1 C1854.88,601.5 1857.9,572.27 1860.1,573.1 C1862.3,573.93 1864.12,605.4 1865.9,620.1 C1867.68,634.8 1869.02,661.3 1870.8,661.3 C1872.58,661.3 1874.53,632.05 1876.6,620.1 C1878.67,608.15 1881.13,589.6 1883.2,589.6 C1885.27,589.6 1887.22,612.97 1889,620.1 C1890.78,627.23 1892.4,633.23 1893.9,632.4 C1895.4,631.57 1896.77,620.03 1898,615.1 C1899.23,610.17 1900.33,603.35 1901.3,602.8 C1902.27,602.25 1902.97,603.43 1903.8,611.8 C1904.63,620.17 1905.2,640.08 1906.3,653 C1907.4,665.92 1909.03,685.58 1910.4,689.3 C1911.77,693.02 1912.98,678.6 1914.5,675.3 C1916.02,672 1918.12,672.38 1919.5,669.5 C1920.88,666.62 1921.57,664.58 1922.8,658 C1924.03,651.42 1925.53,632.2 1926.9,630 C1928.27,627.8 1929.98,638.4 1931,644.8 C1932.02,651.2 1931.75,662.45 1933,668.4 C1934.25,674.35 1936.88,674.47 1938.5,680.5 C1940.12,686.53 1941.7,699.07 1942.7,704.6 C1943.7,710.13 1943.7,715.7 1944.5,713.7 C1945.3,711.7 1946.6,701.17 1947.5,692.6 C1948.4,684.03 1949.13,669.07 1949.9,662.3 C1950.67,655.53 1951.32,654.88 1952.1,652 C1952.88,649.12 1953.85,645.67 1954.6,645 C1955.35,644.33 1956.07,645.62 1956.6,648 C1957.13,650.38 1956.9,652.38 1957.8,659.3 C1958.7,666.22 1960.88,682.45 1962,689.5 C1963.12,696.55 1963.48,699.28 1964.5,701.6 C1965.52,703.92 1966.7,702.38 1968.1,703.4 C1969.5,704.42 1971.48,706.48 1972.9,707.7 C1974.32,708.92 1975.38,713.73 1976.6,710.7 C1977.82,707.67 1978.8,696.55 1980.2,689.5 C1981.6,682.45 1983.18,675.45 1985,668.4 C1986.82,661.35 1989.58,651.53 1991.1,647.2 C1992.62,642.87 1992.9,640.88 1994.1,642.4 C1995.3,643.92 1996.92,649.48 1998.3,656.3 C1999.68,663.12 2000.95,682.87 2002.4,683.3 C2003.85,683.73 2005.57,664.28 2007,658.9 C2008.43,653.52 2009.45,650.78 2011,651 C2012.55,651.22 2014.77,657.78 2016.3,660.2 C2017.83,662.62 2018.55,665.82 2020.2,665.5 C2021.85,665.18 2024.65,658.3 2026.2,658.3 C2027.75,658.3 2028.18,661.12 2029.5,665.5 C2030.82,669.88 2032.57,683.5 2034.1,684.6 C2035.63,685.7 2037.28,675.07 2038.7,672.1 C2040.12,669.13 2041.28,667.47 2042.6,666.8 C2043.92,666.13 2045.27,669.2 2046.6,668.1 C2047.93,667 2048.83,663.6 2050.6,660.2 C2052.37,656.8 2055.45,648.57 2057.2,647.7 C2058.95,646.83 2059.78,651.37 2061.1,655 C2062.42,658.63 2063.57,666.22 2065.1,669.5 C2066.63,672.78 2068.77,672.07 2070.3,674.7 C2071.83,677.33 2073.2,681.33 2074.3,685.3 C2075.4,689.27 2075.8,691.9 2076.9,698.5 C2078,705.1 2079.57,717.53 2080.9,724.9 C2082.23,732.27 2083.58,741.6 2084.9,742.7 C2086.22,743.8 2087.48,737.12 2088.8,731.5 C2090.12,725.88 2091.48,714.83 2092.8,709 C2094.12,703.17 2095.38,697.6 2096.7,696.5 C2098.02,695.4 2099.48,700.2 2100.7,702.4 C2101.92,704.6 2102.68,711.23 2104,709.7 C2105.32,708.17 2106.95,698.15 2108.6,693.2 C2110.25,688.25 2112.25,680.43 2113.9,680 C2115.55,679.57 2117.08,688.07 2118.5,690.6 C2119.92,693.13 2120.97,696.52 2122.4,695.2 C2123.83,693.88 2125.67,681.5 2127.1,682.7 C2128.53,683.9 2129.8,696.47 2131,702.4 C2132.2,708.33 2133.2,718.3 2134.3,718.3 C2135.4,718.3 2136.5,707.35 2137.6,702.4 C2138.7,697.45 2139.9,687.8 2140.9,688.6 C2141.9,689.4 2142.75,700.07 2143.6,707.2 C2144.45,714.33 2145.08,725.05 2146,731.4 C2146.92,737.75 2147.98,745.3 2149.1,745.3 C2150.22,745.3 2151.5,736.75 2152.7,731.4 C2153.9,726.05 2154.95,718.13 2156.3,713.2 C2157.65,708.27 2159.38,702.3 2160.8,701.8 C2162.22,701.3 2163.73,705.78 2164.8,710.2 C2165.87,714.62 2166.4,722.77 2167.2,728.3 C2168,733.83 2168.8,738.37 2169.6,743.4 C2170.4,748.43 2171.2,754.57 2172,758.5 C2172.8,762.43 2173.58,765.18 2174.4,767 C2175.22,768.82 2175.98,769.2 2176.9,769.4 C2177.82,769.6 2179.4,768.4 2179.9,768.2" fill="none" stroke-width="3.0" stroke-linejoin="round"/>
<rect x="1334.2" y="818.9" width="1.8" height="153.1" fill="#000" stroke="none"/>
<rect x="1336" y="818.9" width="1.0" height="153.1" fill="#c8c8c8" stroke="none"/>
<rect x="1338.21" y="126.5" width="4" height="845.5" fill="#c8c8c8" stroke-width="1.8"/>
<rect x="1357.13" y="959.9" width="4" height="12.1" fill="#c8c8c8" stroke-width="1.8"/>
<rect x="1439.11" y="556.5" width="4" height="415.5" fill="#c8c8c8" stroke-width="1.8"/>
<rect x="1445.42" y="384.7" width="4" height="587.3" fill="#c8c8c8" stroke-width="1.8"/>
<rect x="1483.26" y="573.5" width="4" height="398.5" fill="#c8c8c8" stroke-width="1.8"/>
<rect x="1489.57" y="894.9" width="4" height="77.1" fill="#c8c8c8" stroke-width="1.8"/>
<rect x="1603.08" y="492.3" width="4" height="479.7" fill="#c8c8c8" stroke-width="1.8"/>
<rect x="1817.51" y="341.6" width="4" height="630.4" fill="#c8c8c8" stroke-width="1.8"/>
<rect x="1924.72" y="804.6" width="4" height="167.4" fill="#c8c8c8" stroke-width="1.8"/>
</g>
<g stroke="#000" fill="#000" stroke-linecap="butt">
<line x1="213" y1="19.2" x2="213" y2="973" stroke-width="2.2" />
<line x1="212" y1="972" x2="1166.3" y2="972" stroke-width="2.2" />
<line x1="193" y1="19.2" x2="1185.3" y2="19.2" stroke-width="2.2" />
<line x1="1165.3" y1="19.2" x2="1165.3" y2="986.5" stroke-width="2.2" />
<line x1="193" y1="971.6" x2="213" y2="971.6" stroke-width="2.2" />
<text x="172.7" y="985.2" font-size="44" text-anchor="end" stroke="none" fill="#000" >0</text>
<line x1="193" y1="852.64" x2="213" y2="852.64" stroke-width="2.2" />
<text x="172.7" y="866.24" font-size="44" text-anchor="end" stroke="none" fill="#000" >2</text>
<line x1="193" y1="733.68" x2="213" y2="733.68" stroke-width="2.2" />
<text x="172.7" y="747.28" font-size="44" text-anchor="end" stroke="none" fill="#000" >4</text>
<line x1="193" y1="614.72" x2="213" y2="614.72" stroke-width="2.2" />
<text x="172.7" y="628.32" font-size="44" text-anchor="end" stroke="none" fill="#000" >6</text>
<line x1="193" y1="495.76" x2="213" y2="495.76" stroke-width="2.2" />
<text x="172.7" y="509.36" font-size="44" text-anchor="end" stroke="none" fill="#000" >8</text>
<line x1="193" y1="376.8" x2="213" y2="376.8" stroke-width="2.2" />
<text x="172.7" y="390.4" font-size="44" text-anchor="end" stroke="none" fill="#000" >10</text>
<line x1="193" y1="257.84" x2="213" y2="257.84" stroke-width="2.2" />
<text x="172.7" y="271.44" font-size="44" text-anchor="end" stroke="none" fill="#000" >12</text>
<line x1="193" y1="138.88" x2="213" y2="138.88" stroke-width="2.2" />
<text x="172.7" y="152.48" font-size="44" text-anchor="end" stroke="none" fill="#000" >14</text>
<line x1="193" y1="19.92" x2="213" y2="19.92" stroke-width="2.2" />
<text x="172.7" y="33.52" font-size="44" text-anchor="end" stroke="none" fill="#000" >16</text>
<line x1="1165.3" y1="19.2" x2="1185.3" y2="19.2" stroke-width="2.2" />
<line x1="1165.3" y1="230.6" x2="1185.3" y2="230.6" stroke-width="2.2" />
<line x1="1165.3" y1="442.1" x2="1185.3" y2="442.1" stroke-width="2.2" />
<line x1="1165.3" y1="653.6" x2="1185.3" y2="653.6" stroke-width="2.2" />
<line x1="1165.3" y1="865.1" x2="1185.3" y2="865.1" stroke-width="2.2" />
<line x1="213" y1="971" x2="213" y2="986.5" stroke-width="2.2" />
<text x="201" y="1045.9" font-size="44" text-anchor="middle" stroke="none" fill="#000" >Jan</text>
<line x1="408.51" y1="971" x2="408.51" y2="986.5" stroke-width="2.2" />
<text x="396.51" y="1045.9" font-size="44" text-anchor="middle" stroke="none" fill="#000" >Feb</text>
<line x1="585.09" y1="971" x2="585.09" y2="986.5" stroke-width="2.2" />
<text x="573.09" y="1045.9" font-size="44" text-anchor="middle" stroke="none" fill="#000" >Mar</text>
<line x1="780.6" y1="971" x2="780.6" y2="986.5" stroke-width="2.2" />
<text x="768.6" y="1045.9" font-size="44" text-anchor="middle" stroke="none" fill="#000" >Apr</text>
<line x1="969.79" y1="971" x2="969.79" y2="986.5" stroke-width="2.2" />
<text x="957.79" y="1045.9" font-size="44" text-anchor="middle" stroke="none" fill="#000" >May</text>
<line x1="1165.3" y1="971" x2="1165.3" y2="986.5" stroke-width="2.2" />
<text x="1153.3" y="1045.9" font-size="44" text-anchor="middle" stroke="none" fill="#000" >Jun</text>
<line x1="244.53" y1="971" x2="244.53" y2="980.5" stroke-width="2.2" />
<line x1="288.68" y1="971" x2="288.68" y2="980.5" stroke-width="2.2" />
<line x1="332.83" y1="971" x2="332.83" y2="980.5" stroke-width="2.2" />
<line x1="376.97" y1="971" x2="376.97" y2="980.5" stroke-width="2.2" />
<line x1="421.12" y1="971" x2="421.12" y2="980.5" stroke-width="2.2" />
<line x1="465.26" y1="971" x2="465.26" y2="980.5" stroke-width="2.2" />
<line x1="509.41" y1="971" x2="509.41" y2="980.5" stroke-width="2.2" />
<line x1="553.56" y1="971" x2="553.56" y2="980.5" stroke-width="2.2" />
<line x1="597.7" y1="971" x2="597.7" y2="980.5" stroke-width="2.2" />
<line x1="641.85" y1="971" x2="641.85" y2="980.5" stroke-width="2.2" />
<line x1="686" y1="971" x2="686" y2="980.5" stroke-width="2.2" />
<line x1="730.14" y1="971" x2="730.14" y2="980.5" stroke-width="2.2" />
<line x1="774.29" y1="971" x2="774.29" y2="980.5" stroke-width="2.2" />
<line x1="818.44" y1="971" x2="818.44" y2="980.5" stroke-width="2.2" />
<line x1="862.58" y1="971" x2="862.58" y2="980.5" stroke-width="2.2" />
<line x1="906.73" y1="971" x2="906.73" y2="980.5" stroke-width="2.2" />
<line x1="950.87" y1="971" x2="950.87" y2="980.5" stroke-width="2.2" />
<line x1="995.02" y1="971" x2="995.02" y2="980.5" stroke-width="2.2" />
<line x1="1039.17" y1="971" x2="1039.17" y2="980.5" stroke-width="2.2" />
<line x1="1083.31" y1="971" x2="1083.31" y2="980.5" stroke-width="2.2" />
<line x1="1127.46" y1="971" x2="1127.46" y2="980.5" stroke-width="2.2" />
<line x1="1333.6" y1="19.2" x2="1333.6" y2="973" stroke-width="2.2" />
<line x1="1332.6" y1="972" x2="2286.9" y2="972" stroke-width="2.2" />
<line x1="1313.6" y1="19.2" x2="2305.9" y2="19.2" stroke-width="2.2" />
<line x1="2285.9" y1="19.2" x2="2285.9" y2="986.5" stroke-width="2.2" />
<line x1="1313.6" y1="971.6" x2="1333.6" y2="971.6" stroke-width="2.2" />
<line x1="1313.6" y1="852.64" x2="1333.6" y2="852.64" stroke-width="2.2" />
<line x1="1313.6" y1="733.68" x2="1333.6" y2="733.68" stroke-width="2.2" />
<line x1="1313.6" y1="614.72" x2="1333.6" y2="614.72" stroke-width="2.2" />
<line x1="1313.6" y1="495.76" x2="1333.6" y2="495.76" stroke-width="2.2" />
<line x1="1313.6" y1="376.8" x2="1333.6" y2="376.8" stroke-width="2.2" />
<line x1="1313.6" y1="257.84" x2="1333.6" y2="257.84" stroke-width="2.2" />
<line x1="1313.6" y1="138.88" x2="1333.6" y2="138.88" stroke-width="2.2" />
<line x1="1313.6" y1="19.92" x2="1333.6" y2="19.92" stroke-width="2.2" />
<line x1="2285.9" y1="19.2" x2="2305.9" y2="19.2" stroke-width="2.2" />
<text x="2326.9" y="34.2" font-size="44" text-anchor="start" stroke="none" fill="#000" >50</text>
<line x1="2285.9" y1="230.6" x2="2305.9" y2="230.6" stroke-width="2.2" />
<text x="2326.9" y="245.6" font-size="44" text-anchor="start" stroke="none" fill="#000" >40</text>
<line x1="2285.9" y1="442.1" x2="2305.9" y2="442.1" stroke-width="2.2" />
<text x="2326.9" y="457.1" font-size="44" text-anchor="start" stroke="none" fill="#000" >30</text>
<line x1="2285.9" y1="653.6" x2="2305.9" y2="653.6" stroke-width="2.2" />
<text x="2326.9" y="668.6" font-size="44" text-anchor="start" stroke="none" fill="#000" >20</text>
<line x1="2285.9" y1="865.1" x2="2305.9" y2="865.1" stroke-width="2.2" />
<text x="2326.9" y="880.1" font-size="44" text-anchor="start" stroke="none" fill="#000" >10</text>
<line x1="1333.6" y1="971" x2="1333.6" y2="986.5" stroke-width="2.2" />
<text x="1321.6" y="1045.9" font-size="44" text-anchor="middle" stroke="none" fill="#000" >Jan</text>
<line x1="1529.11" y1="971" x2="1529.11" y2="986.5" stroke-width="2.2" />
<text x="1517.11" y="1045.9" font-size="44" text-anchor="middle" stroke="none" fill="#000" >Feb</text>
<line x1="1705.69" y1="971" x2="1705.69" y2="986.5" stroke-width="2.2" />
<text x="1693.69" y="1045.9" font-size="44" text-anchor="middle" stroke="none" fill="#000" >Mar</text>
<line x1="1901.2" y1="971" x2="1901.2" y2="986.5" stroke-width="2.2" />
<text x="1889.2" y="1045.9" font-size="44" text-anchor="middle" stroke="none" fill="#000" >Apr</text>
<line x1="2090.39" y1="971" x2="2090.39" y2="986.5" stroke-width="2.2" />
<text x="2078.39" y="1045.9" font-size="44" text-anchor="middle" stroke="none" fill="#000" >May</text>
<line x1="2285.9" y1="971" x2="2285.9" y2="986.5" stroke-width="2.2" />
<text x="2273.9" y="1045.9" font-size="44" text-anchor="middle" stroke="none" fill="#000" >Jun</text>
<line x1="1365.13" y1="971" x2="1365.13" y2="980.5" stroke-width="2.2" />
<line x1="1409.28" y1="971" x2="1409.28" y2="980.5" stroke-width="2.2" />
<line x1="1453.43" y1="971" x2="1453.43" y2="980.5" stroke-width="2.2" />
<line x1="1497.57" y1="971" x2="1497.57" y2="980.5" stroke-width="2.2" />
<line x1="1541.72" y1="971" x2="1541.72" y2="980.5" stroke-width="2.2" />
<line x1="1585.86" y1="971" x2="1585.86" y2="980.5" stroke-width="2.2" />
<line x1="1630.01" y1="971" x2="1630.01" y2="980.5" stroke-width="2.2" />
<line x1="1674.16" y1="971" x2="1674.16" y2="980.5" stroke-width="2.2" />
<line x1="1718.3" y1="971" x2="1718.3" y2="980.5" stroke-width="2.2" />
<line x1="1762.45" y1="971" x2="1762.45" y2="980.5" stroke-width="2.2" />
<line x1="1806.6" y1="971" x2="1806.6" y2="980.5" stroke-width="2.2" />
<line x1="1850.74" y1="971" x2="1850.74" y2="980.5" stroke-width="2.2" />
<line x1="1894.89" y1="971" x2="1894.89" y2="980.5" stroke-width="2.2" />
<line x1="1939.04" y1="971" x2="1939.04" y2="980.5" stroke-width="2.2" />
<line x1="1983.18" y1="971" x2="1983.18" y2="980.5" stroke-width="2.2" />
<line x1="2027.33" y1="971" x2="2027.33" y2="980.5" stroke-width="2.2" />
<line x1="2071.47" y1="971" x2="2071.47" y2="980.5" stroke-width="2.2" />
<line x1="2115.62" y1="971" x2="2115.62" y2="980.5" stroke-width="2.2" />
<line x1="2159.77" y1="971" x2="2159.77" y2="980.5" stroke-width="2.2" />
<line x1="2203.91" y1="971" x2="2203.91" y2="980.5" stroke-width="2.2" />
<line x1="2248.06" y1="971" x2="2248.06" y2="980.5" stroke-width="2.2" />
</g>
<g fill="#000" stroke="none">
</g>
<g stroke="#000" fill="#000">
<rect x="674.2" y="41.6" width="476.6" height="258.5" fill="#fff" stroke-width="2.8"/>
<line x1="701.7" y1="97.5" x2="804.9" y2="97.5" stroke-width="2.6" />
<circle cx="753.3" cy="97.5" r="14.4" fill="#000" stroke="none"/>
<line x1="701.7" y1="146.6" x2="804.9" y2="146.6" stroke-width="2.8" stroke-linecap="round" stroke-dasharray="0.01 13.4"/>
<circle cx="753.3" cy="146.6" r="13.2" fill="#fff" stroke-width="1.9"/>
<line x1="701.7" y1="195" x2="804.9" y2="195" stroke-width="2.6" />
<rect x="702.7" y="229.4" width="101.2" height="30.4" fill="#c0c0c0" stroke-width="2"/>
<text x="827.8" y="111.9" font-size="44" text-anchor="start" stroke="none" fill="#000" >Grazed (G+)</text>
<text x="827.8" y="161.1" font-size="44" text-anchor="start" stroke="none" fill="#000" >Ungrazed (G-)</text>
<text x="827.8" y="210.2" font-size="44" text-anchor="start" stroke="none" fill="#000" >Mean Temp</text>
<text x="827.8" y="259.3" font-size="44" text-anchor="start" stroke="none" fill="#000" >Rainfall</text>
<rect x="1796.7" y="37.3" width="452.4" height="257.8" fill="#fff" stroke-width="2.8"/>
<line x1="1827.4" y1="91.8" x2="1930.3" y2="91.8" stroke-width="2.6" />
<circle cx="1878.7" cy="91.8" r="14.4" fill="#000" stroke="none"/>
<line x1="1827.4" y1="141.6" x2="1930.3" y2="141.6" stroke-width="5.2" stroke-linecap="round" stroke-dasharray="0.01 16.3"/>
<circle cx="1878.7" cy="141.6" r="13.2" fill="#fff" stroke-width="1.9"/>
<line x1="1827.4" y1="190" x2="1930.3" y2="190" stroke-width="2.6" />
<rect x="1828.4" y="223.2" width="100.9" height="31.2" fill="#c0c0c0" stroke-width="2"/>
<text x="1954.2" y="107" font-size="44" text-anchor="start" stroke="none" fill="#000" >Ambient (D-)</text>
<text x="1954.2" y="155.7" font-size="44" text-anchor="start" stroke="none" fill="#000" >Drought (D+)</text>
<text x="1954.2" y="205.3" font-size="44" text-anchor="start" stroke="none" fill="#000" >Mean Temp</text>
<text x="1954.2" y="254.4" font-size="44" text-anchor="start" stroke="none" fill="#000" >Rainfall</text>
</g>
<g fill="#000" stroke="none">
<text x="16.6" y="42.3" font-size="53.5" text-anchor="start" font-weight="bold" stroke="none" fill="#000" >A</text>
<text x="1227.8" y="46.6" font-size="53" text-anchor="start" font-weight="bold" stroke="none" fill="#000" >B</text>
<text x="577" y="1215" font-size="52" text-anchor="start" font-weight="bold" stroke="none" fill="#000" >C</text>
<text x="536.3" y="212" font-size="50" text-anchor="middle" font-weight="bold" stroke="none" fill="#000" >*</text>
<text x="974.3" y="846" font-size="50" text-anchor="middle" font-weight="bold" stroke="none" fill="#000" >*</text>
<text x="2092.7" y="842" font-size="50" text-anchor="middle" font-weight="bold" stroke="none" fill="#000" >*</text>
<text transform="translate(53.6,493.8) rotate(-90)" font-size="53.5" text-anchor="middle">CO<tspan font-size="35.5" dy="18">2</tspan><tspan dy="-18"> (mg m</tspan><tspan font-size="35.5" dy="-26">-2</tspan><tspan dy="26"> min</tspan><tspan font-size="35.5" dy="-26">-1</tspan><tspan dy="26">)</tspan></text>
<text transform="translate(2486,493.8) rotate(-90)" font-size="53.6" text-anchor="middle">Rainfall (mm) and Temperature (<tspan dy="-21.5">o</tspan><tspan dy="21.5">C)</tspan></text>
<text transform="translate(613.2,1672.8) rotate(-90)" font-size="53.4" text-anchor="middle">CO<tspan font-size="35.5" dy="17">2</tspan><tspan dy="-17"> (tons ha</tspan><tspan font-size="35.5" dy="-26">-1</tspan><tspan dy="26">)</tspan></text>
</g>
<g stroke="#000" fill="none">
<path d="M853.7,2056.9 C855.75,2055.08 861.62,2049.65 866,2046 C870.38,2042.35 875.35,2038.98 880,2035 C884.65,2031.02 891.58,2024.25 893.9,2022.1 M914.5,1997.5 C916.25,1995.53 918.62,1992.32 925,1985.7 C931.38,1979.08 948.17,1962.45 952.8,1957.8 M974.3,1933.2 C977.25,1929.92 985.93,1920.02 992,1913.5 C998.07,1906.98 1007.58,1897.33 1010.7,1894.1 M1032.1,1870 C1035.08,1866.83 1043.92,1857.43 1050,1851 C1056.08,1844.57 1065.5,1834.67 1068.6,1831.4 M1087.8,1806.8 C1090,1803.58 1096.43,1794.02 1101,1787.5 C1105.57,1780.98 1112.83,1771 1115.2,1767.7 M1132.3,1742 C1134.58,1738.83 1141.45,1729.35 1146,1723 C1150.55,1716.65 1157.33,1707.08 1159.6,1703.9 M1177.7,1678.7 C1180.25,1675.42 1187.73,1665.52 1193,1659 C1198.27,1652.48 1206.58,1642.83 1209.3,1639.6 M1231.8,1619.8 C1234.47,1619.18 1243.35,1617.27 1247.8,1616.1 C1252.25,1614.93 1254.57,1614.5 1258.5,1612.8 C1262.43,1611.1 1269.25,1607.05 1271.4,1605.9 M1295.5,1582.3 C1297.55,1580.25 1303.97,1574.2 1307.8,1570 C1311.63,1565.8 1314.33,1561.52 1318.5,1557.1 C1322.67,1552.68 1330.42,1545.77 1332.8,1543.5 M1356.7,1517.9 C1359.92,1514.85 1369.53,1505.63 1376,1499.6 C1382.47,1493.57 1392.25,1484.68 1395.5,1481.7 M1420.2,1464.4 C1423.5,1462.43 1433.42,1456.32 1440,1452.6 C1446.58,1448.88 1456.42,1443.85 1459.7,1442.1 M1483.6,1431.4 C1486.83,1430.05 1496.4,1425.92 1503,1423.3 C1509.6,1420.68 1519.83,1416.97 1523.2,1415.7" stroke-width="2.4"/>
<circle cx="904.6" cy="2009.3" r="1.5" fill="#000" stroke="none"/>
<circle cx="963.6" cy="1945" r="1.5" fill="#000" stroke="none"/>
<circle cx="1021.4" cy="1881.2" r="1.5" fill="#000" stroke="none"/>
<circle cx="1078.7" cy="1819.1" r="1.5" fill="#000" stroke="none"/>
<circle cx="1123.7" cy="1754.3" r="1.5" fill="#000" stroke="none"/>
<circle cx="1168.7" cy="1691.1" r="1.5" fill="#000" stroke="none"/>
<circle cx="1219.4" cy="1627.8" r="1.5" fill="#000" stroke="none"/>
<circle cx="1283.2" cy="1594.6" r="1.5" fill="#000" stroke="none"/>
<circle cx="1344.4" cy="1530.3" r="1.5" fill="#000" stroke="none"/>
<circle cx="1407.8" cy="1472.6" r="1.5" fill="#000" stroke="none"/>
<circle cx="1472.1" cy="1437.2" r="1.5" fill="#000" stroke="none"/>
<path d="M853.7,2056.9 C857.55,2055.03 870.28,2049.35 876.8,2045.7 C883.32,2042.05 887,2039.02 892.8,2035 C898.6,2030.98 908.47,2023.83 911.6,2021.6 M933,2004.4 C937.92,2000.38 952.77,1988.33 962.5,1980.3 C972.23,1972.27 986.58,1960.22 991.4,1956.2 M1012.3,1938 C1015.42,1935.33 1024.72,1927.43 1031,1922 C1037.28,1916.57 1043.5,1910.98 1050,1905.4 C1056.5,1899.82 1066.67,1891.32 1070,1888.5 M1091.6,1868.9 C1096.33,1864.75 1110.37,1852.4 1120,1844 C1129.63,1835.6 1144.5,1822.75 1149.4,1818.5 M1170.3,1800.3 C1174.5,1797.32 1188.37,1787.43 1195.5,1782.4 C1202.63,1777.37 1207.53,1773.32 1213.1,1770.1 C1218.67,1766.88 1226.27,1764.27 1228.9,1763.1 M1250,1762.2 C1253.22,1760.73 1262.85,1757.65 1269.3,1753.4 C1275.75,1749.15 1282.1,1742.27 1288.7,1736.7 C1295.3,1731.13 1305.53,1722.78 1308.9,1720 M1329.4,1699.8 C1334.17,1695.77 1348.35,1683.68 1358,1675.6 C1367.65,1667.52 1382.42,1655.35 1387.3,1651.3 M1408.9,1636.5 C1413.75,1633.92 1428.35,1625.72 1438,1621 C1447.65,1616.28 1462,1610.33 1466.8,1608.2 M1488.3,1598.8 C1491.92,1597.5 1503.12,1593.47 1510,1591 C1516.88,1588.53 1526.33,1585.17 1529.6,1584" stroke-width="2.4"/>
<g fill="#000" stroke="none"><circle cx="853.7" cy="2056.9" r="1.5"/><circle cx="866.9" cy="2047.27" r="1.5"/><circle cx="880.1" cy="2037.52" r="1.5"/><circle cx="893.3" cy="2028.46" r="1.5"/><circle cx="906.5" cy="2019.51" r="1.5"/><circle cx="919.7" cy="2010.08" r="1.5"/><circle cx="932.9" cy="1999.44" r="1.5"/><circle cx="946.1" cy="1987.68" r="1.5"/><circle cx="959.3" cy="1975.65" r="1.5"/><circle cx="972.5" cy="1964.61" r="1.5"/><circle cx="985.7" cy="1953.02" r="1.5"/><circle cx="998.9" cy="1941.36" r="1.5"/><circle cx="1012.1" cy="1929.37" r="1.5"/><circle cx="1025.3" cy="1917.85" r="1.5"/><circle cx="1038.5" cy="1906.78" r="1.5"/><circle cx="1051.7" cy="1895.42" r="1.5"/><circle cx="1064.9" cy="1884.7" r="1.5"/><circle cx="1078.1" cy="1873.6" r="1.5"/><circle cx="1091.24" cy="1860.7" r="1.5"/><circle cx="1104.28" cy="1847.52" r="1.5"/><circle cx="1117.05" cy="1834.32" r="1.5"/><circle cx="1130.11" cy="1821.17" r="1.5"/><circle cx="1142.85" cy="1807.97" r="1.5"/><circle cx="1156" cy="1794.93" r="1.5"/><circle cx="1169.2" cy="1782.35" r="1.5"/><circle cx="1182.4" cy="1770" r="1.5"/><circle cx="1195.6" cy="1758.47" r="1.5"/><circle cx="1208.8" cy="1747.34" r="1.5"/><circle cx="1222" cy="1739.04" r="1.5"/><circle cx="1235.2" cy="1736.44" r="1.5"/><circle cx="1248.4" cy="1736.39" r="1.5"/><circle cx="1261.6" cy="1732.96" r="1.5"/><circle cx="1274.8" cy="1724.69" r="1.5"/><circle cx="1288" cy="1713.91" r="1.5"/><circle cx="1301.2" cy="1702.75" r="1.5"/><circle cx="1314.37" cy="1689.95" r="1.5"/><circle cx="1327.52" cy="1677.02" r="1.5"/><circle cx="1340.72" cy="1664.88" r="1.5"/><circle cx="1353.92" cy="1652.94" r="1.5"/><circle cx="1367.12" cy="1641.67" r="1.5"/><circle cx="1380.32" cy="1631.1" r="1.5"/><circle cx="1393.52" cy="1621.25" r="1.5"/><circle cx="1406.72" cy="1612.18" r="1.5"/><circle cx="1419.92" cy="1604.18" r="1.5"/><circle cx="1433.12" cy="1597.27" r="1.5"/><circle cx="1446.32" cy="1591.74" r="1.5"/><circle cx="1459.52" cy="1587.34" r="1.5"/><circle cx="1472.72" cy="1582.62" r="1.5"/><circle cx="1485.92" cy="1577.66" r="1.5"/><circle cx="1499.12" cy="1573.34" r="1.5"/><circle cx="1512.32" cy="1569.47" r="1.5"/><circle cx="1525.52" cy="1565.45" r="1.5"/></g>
<path d="M853.7,2056.9 C856.3,2054.67 862.78,2049.3 869.3,2043.5 C875.82,2037.7 886.73,2027.98 892.8,2022.1 C898.87,2016.22 901.4,2013.02 905.7,2008.2 C910,2003.38 913.6,1999.1 918.6,1993.2 C923.6,1987.3 929.28,1980.48 935.7,1972.8 C942.12,1965.12 949.97,1956.2 957.1,1947.1 C964.23,1938 972.25,1926.4 978.5,1918.2 C984.75,1910 988.33,1907.18 994.6,1897.9 C1000.87,1888.62 1009.85,1872.15 1016.1,1862.5 C1022.35,1852.85 1026.75,1846.62 1032.1,1840 C1037.45,1833.38 1042.12,1828.87 1048.2,1822.8 C1054.28,1816.73 1063.25,1808.95 1068.6,1803.6 C1073.95,1798.25 1076.55,1795.7 1080.3,1790.7 C1084.05,1785.7 1087.52,1779.67 1091.1,1773.6 C1094.68,1767.53 1098.23,1760.92 1101.8,1754.3 C1105.37,1747.68 1108.93,1740.68 1112.5,1733.9 C1116.07,1727.12 1119.95,1719.67 1123.2,1713.6 C1126.45,1707.53 1129.08,1702.87 1132,1697.5 C1134.92,1692.13 1136.57,1688.73 1140.7,1681.4 C1144.83,1674.07 1151.45,1662.78 1156.8,1653.5 C1162.15,1644.22 1167.45,1634.98 1172.8,1625.7 C1178.15,1616.42 1183.53,1606.37 1188.9,1597.8 C1194.27,1589.23 1200.53,1580.55 1205,1574.3 C1209.47,1568.05 1212.13,1564.15 1215.7,1560.3 C1219.27,1556.45 1223,1553.3 1226.4,1551.2 C1229.8,1549.1 1232.53,1547.78 1236.1,1547.7 C1239.67,1547.62 1244.23,1550.12 1247.8,1550.7 C1251.37,1551.28 1254.1,1551.92 1257.5,1551.2 C1260.9,1550.48 1264.1,1549.52 1268.2,1546.4 C1272.3,1543.28 1277.82,1537.13 1282.1,1532.5 C1286.38,1527.87 1288.47,1525.83 1293.9,1518.6 C1299.33,1511.37 1307.12,1500.07 1314.7,1489.1 C1322.28,1478.13 1331.15,1464.62 1339.4,1452.8 C1347.65,1440.98 1354.85,1430 1364.2,1418.2 C1373.55,1406.4 1386.45,1391.75 1395.5,1382 C1404.55,1372.25 1411.37,1366.3 1418.5,1359.7 C1425.63,1353.1 1430.88,1348.45 1438.3,1342.4 C1445.72,1336.35 1454.75,1329.3 1463,1323.4 C1471.25,1317.5 1479.55,1312.35 1487.8,1307 C1496.05,1301.65 1505.5,1296.47 1512.5,1291.3 C1519.5,1286.13 1526.92,1278.55 1529.8,1276" stroke-width="2.4"/>
</g>
<g stroke="#000" fill="#000">
<line x1="771.5" y1="1195.8" x2="771.5" y2="2149.5" stroke-width="2.2" />
<line x1="770.5" y1="2148.5" x2="1725.5" y2="2148.5" stroke-width="2.2" />
<line x1="751.5" y1="1195.8" x2="1725.5" y2="1195.8" stroke-width="2.2" />
<line x1="1724.5" y1="1195.8" x2="1724.5" y2="2163" stroke-width="2.2" />
<line x1="751.5" y1="2062" x2="771.5" y2="2062" stroke-width="2.2" />
<text x="730" y="2076" font-size="44" text-anchor="end" stroke="none" fill="#000" >0</text>
<line x1="751.5" y1="1965.7" x2="771.5" y2="1965.7" stroke-width="2.2" />
<text x="730" y="1979.7" font-size="44" text-anchor="end" stroke="none" fill="#000" >2</text>
<line x1="751.5" y1="1869.4" x2="771.5" y2="1869.4" stroke-width="2.2" />
<text x="730" y="1883.4" font-size="44" text-anchor="end" stroke="none" fill="#000" >4</text>
<line x1="751.5" y1="1773.1" x2="771.5" y2="1773.1" stroke-width="2.2" />
<text x="730" y="1787.1" font-size="44" text-anchor="end" stroke="none" fill="#000" >6</text>
<line x1="751.5" y1="1676.8" x2="771.5" y2="1676.8" stroke-width="2.2" />
<text x="730" y="1690.8" font-size="44" text-anchor="end" stroke="none" fill="#000" >8</text>
<line x1="751.5" y1="1580.5" x2="771.5" y2="1580.5" stroke-width="2.2" />
<text x="730" y="1594.5" font-size="44" text-anchor="end" stroke="none" fill="#000" >10</text>
<line x1="751.5" y1="1484.2" x2="771.5" y2="1484.2" stroke-width="2.2" />
<text x="730" y="1498.2" font-size="44" text-anchor="end" stroke="none" fill="#000" >12</text>
<line x1="751.5" y1="1387.9" x2="771.5" y2="1387.9" stroke-width="2.2" />
<text x="730" y="1401.9" font-size="44" text-anchor="end" stroke="none" fill="#000" >14</text>
<line x1="751.5" y1="1291.6" x2="771.5" y2="1291.6" stroke-width="2.2" />
<text x="730" y="1305.6" font-size="44" text-anchor="end" stroke="none" fill="#000" >16</text>
<line x1="751.5" y1="1195.3" x2="771.5" y2="1195.3" stroke-width="2.2" />
<text x="730" y="1209.3" font-size="44" text-anchor="end" stroke="none" fill="#000" >18</text>
<line x1="771.5" y1="2147.5" x2="771.5" y2="2163" stroke-width="2.2" />
<text x="759.5" y="2222.8" font-size="44" text-anchor="middle" stroke="none" fill="#000" >Jan</text>
<line x1="967.15" y1="2147.5" x2="967.15" y2="2163" stroke-width="2.2" />
<text x="955.15" y="2222.8" font-size="44" text-anchor="middle" stroke="none" fill="#000" >Feb</text>
<line x1="1143.86" y1="2147.5" x2="1143.86" y2="2163" stroke-width="2.2" />
<text x="1131.86" y="2222.8" font-size="44" text-anchor="middle" stroke="none" fill="#000" >Mar</text>
<line x1="1339.51" y1="2147.5" x2="1339.51" y2="2163" stroke-width="2.2" />
<text x="1327.51" y="2222.8" font-size="44" text-anchor="middle" stroke="none" fill="#000" >Apr</text>
<line x1="1528.85" y1="2147.5" x2="1528.85" y2="2163" stroke-width="2.2" />
<text x="1516.85" y="2222.8" font-size="44" text-anchor="middle" stroke="none" fill="#000" >May</text>
<line x1="1724.5" y1="2147.5" x2="1724.5" y2="2163" stroke-width="2.2" />
<text x="1712.5" y="2222.8" font-size="44" text-anchor="middle" stroke="none" fill="#000" >Jun</text>
<line x1="803.06" y1="2147.5" x2="803.06" y2="2157" stroke-width="2.2" />
<line x1="847.24" y1="2147.5" x2="847.24" y2="2157" stroke-width="2.2" />
<line x1="891.41" y1="2147.5" x2="891.41" y2="2157" stroke-width="2.2" />
<line x1="935.59" y1="2147.5" x2="935.59" y2="2157" stroke-width="2.2" />
<line x1="979.77" y1="2147.5" x2="979.77" y2="2157" stroke-width="2.2" />
<line x1="1023.95" y1="2147.5" x2="1023.95" y2="2157" stroke-width="2.2" />
<line x1="1068.13" y1="2147.5" x2="1068.13" y2="2157" stroke-width="2.2" />
<line x1="1112.31" y1="2147.5" x2="1112.31" y2="2157" stroke-width="2.2" />
<line x1="1156.49" y1="2147.5" x2="1156.49" y2="2157" stroke-width="2.2" />
<line x1="1200.67" y1="2147.5" x2="1200.67" y2="2157" stroke-width="2.2" />
<line x1="1244.84" y1="2147.5" x2="1244.84" y2="2157" stroke-width="2.2" />
<line x1="1289.02" y1="2147.5" x2="1289.02" y2="2157" stroke-width="2.2" />
<line x1="1333.2" y1="2147.5" x2="1333.2" y2="2157" stroke-width="2.2" />
<line x1="1377.38" y1="2147.5" x2="1377.38" y2="2157" stroke-width="2.2" />
<line x1="1421.56" y1="2147.5" x2="1421.56" y2="2157" stroke-width="2.2" />
<line x1="1465.74" y1="2147.5" x2="1465.74" y2="2157" stroke-width="2.2" />
<line x1="1509.92" y1="2147.5" x2="1509.92" y2="2157" stroke-width="2.2" />
<line x1="1554.1" y1="2147.5" x2="1554.1" y2="2157" stroke-width="2.2" />
<line x1="1598.27" y1="2147.5" x2="1598.27" y2="2157" stroke-width="2.2" />
<line x1="1642.45" y1="2147.5" x2="1642.45" y2="2157" stroke-width="2.2" />
<line x1="1686.63" y1="2147.5" x2="1686.63" y2="2157" stroke-width="2.2" />
<rect x="1199.3" y="1853" width="490.1" height="256.6" fill="#fff" stroke-width="2.8"/>
<line x1="1230.3" y1="1908.8" x2="1461.4" y2="1908.8" stroke-width="2.6" stroke-dasharray="40 10 3 10.3"/>
<line x1="1230.3" y1="1957.5" x2="1470.2" y2="1957.5" stroke-width="2.6"/>
<line x1="1230.3" y1="2005.6" x2="1448.7" y2="2005.6" stroke-width="2.6" stroke-dasharray="59.5 19.5"/>
<line x1="1230.3" y1="2054.6" x2="1466.3" y2="2054.6" stroke-width="2.6" stroke-linecap="round" stroke-dasharray="0.01 13.1"/>
</g>
<g fill="#000" stroke="none">
<text x="1529.3" y="1923.2" font-size="44" text-anchor="start" stroke="none" fill="#000" >D-G-</text>
<text x="1529.3" y="1971.3" font-size="44" text-anchor="start" stroke="none" fill="#000" >D-G+</text>
<text x="1529.3" y="2019.7" font-size="44" text-anchor="start" stroke="none" fill="#000" >D+G-</text>
<text x="1529.3" y="2067.9" font-size="44" text-anchor="start" stroke="none" fill="#000" >D+G+</text>
</g>
</svg>
</body></html>
